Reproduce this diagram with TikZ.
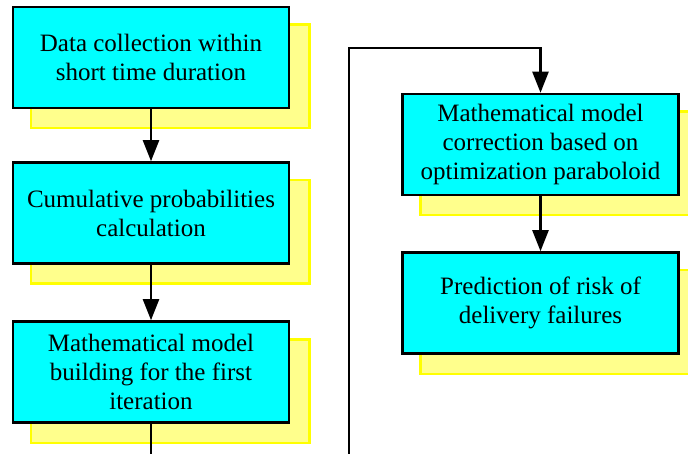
\documentclass[tikz,border=0pt]{standalone}
\usepackage{fontspec}
\setmainfont{Liberation Serif}
\usetikzlibrary{arrows.meta,backgrounds}

\definecolor{boxcyan}{RGB}{0,255,255}
\definecolor{shadeyellow}{RGB}{255,255,140}
\definecolor{edgeyellow}{RGB}{255,255,0}

\tikzset{
  stepbox/.style={draw=black, line width=2.5pt, fill=boxcyan,
    minimum width=276pt, minimum height=101pt, inner sep=0pt,
    align=center, font=\fontsize{25pt}{29pt}\selectfont},
  flow/.style={draw=black, line width=2.2pt,
    -{Triangle[length=21pt,width=16pt]}},
  link/.style={draw=black, line width=2.2pt},
  boxshade/.style={fill=shadeyellow, draw=edgeyellow, line width=2.5pt}
}

\begin{document}
\begin{tikzpicture}[x=1pt, y=-1pt]
  \useasboundingbox (0,0) rectangle (688,454);
  \clip (0,0) rectangle (688,454);

  % process boxes
  \node[stepbox] (b1) at (151,57.5) {Data collection within\\short time duration};
  \node[stepbox] (b2) at (151,213) {Cumulative probabilities\\calculation};
  \node[stepbox] (b3) at (151,372) {Mathematical model\\building for the first\\iteration};
  \node[stepbox] (b4) at (540.5,144.5) {Mathematical model\\correction based on\\optimization paraboloid};
  \node[stepbox] (b5) at (540.5,303) {Prediction of risk of\\delivery failures};

  % offset shadows behind every box
  \begin{scope}[on background layer]
    \foreach \b in {b1,b2,b3,b4,b5}{
      \path[boxshade] ([shift={(19,19)}]\b.south west) rectangle ([shift={(19,19)}]\b.north east);
    }
  \end{scope}

  % free ends of the loop line
  \coordinate (lb) at (151,460);
  \coordinate (rb) at (349,460);
  \coordinate (rt) at (349,48);

  % connectors
  \draw[flow] (b1.south) -- (b2.north);
  \draw[flow] (b2.south) -- (b3.north);
  \draw[link] (b3.south) -- (lb);
  \draw[flow] (rb) -- (rt) -| (b4.north);
  \draw[flow] (b4.south) -- (b5.north);
\end{tikzpicture}
\end{document}
